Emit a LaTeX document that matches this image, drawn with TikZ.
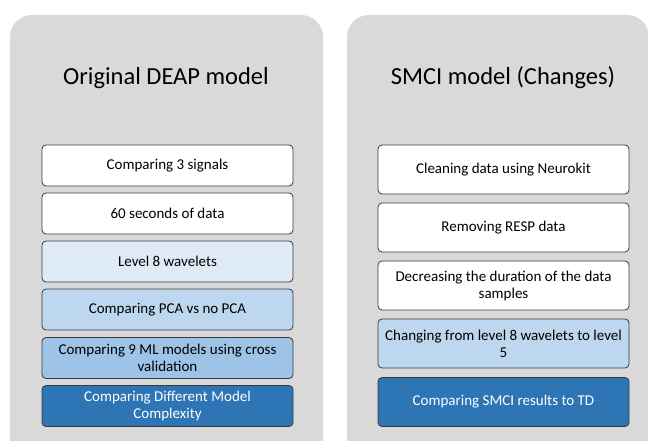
\documentclass[tikz,border=0pt]{standalone}
\usepackage{fontspec}
\setmainfont{Carlito}
\usepackage{tikz}
\usetikzlibrary{
  positioning,
  calc
}
\definecolor{panelgray}{HTML}{D9D9D9}
\definecolor{boxedge}{HTML}{3A3A3A}
\definecolor{blueA}{HTML}{DEEBF7}
\definecolor{blueB}{HTML}{BDD7EE}
\definecolor{blueC}{HTML}{9DC3E6}
\definecolor{blueD}{HTML}{2E75B6}

\begin{document}
\begin{tikzpicture}[x=1pt, y=-1pt,
    panel/.style={fill=panelgray, draw=none, rounded corners=22pt},
    paneltitle/.style={font=\fontsize{24.5}{28}\selectfont, text=black},
    stepbox/.style={draw=boxedge, line width=0.8pt, rounded corners=4pt,
      minimum width=251pt, inner sep=2pt, align=center,
      font=\fontsize{15}{17}\selectfont}]
  \useasboundingbox (0,0) rectangle (648,441);
  \clip (0,0) rectangle (648,441);
  \fill[white] (0,0) rectangle (648,441);

  % the two grey panels
  \draw[panel] (10,15) rectangle (323,470);
  \draw[panel] (347,15) rectangle (649,470);
  \node[paneltitle] (ltitle) at (166,78) {Original DEAP model};
  \node[paneltitle] (rtitle) at (503,78) {SMCI model (Changes)};

  % left column
  \foreach \n/\y/\col/\txt/\tcol in {
      1/165.5/white/{Comparing 3 signals}/black,
      2/213.5/white/{60 seconds of data}/black,
      3/261.5/blueA/{Level 8 wavelets}/black,
      4/309.5/blueB/{Comparing PCA vs no PCA}/black,
      5/358/blueC/{Comparing 9 ML models using cross\\validation}/black,
      6/406/blueD/{Comparing Different Model\\Complexity}/white}{
    \node[stepbox, fill=\col, text=\tcol, minimum height=41pt] (l\n) at (167.5,\y) {\txt};
  }

  % right column
  \foreach \n/\y/\col/\txt/\tcol in {
      1/169.5/white/{Cleaning data using Neurokit}/black,
      2/227.5/white/{Removing RESP data}/black,
      3/285.5/white/{Decreasing the duration of the data\\samples}/black,
      4/343.5/blueB/{Changing from level 8 wavelets to level\\5}/black,
      5/402/blueD/{Comparing SMCI results to TD}/white}{
    \node[stepbox, fill=\col, text=\tcol, minimum height=49pt] (r\n) at (503.5,\y) {\txt};
  }
\end{tikzpicture}
\end{document}
